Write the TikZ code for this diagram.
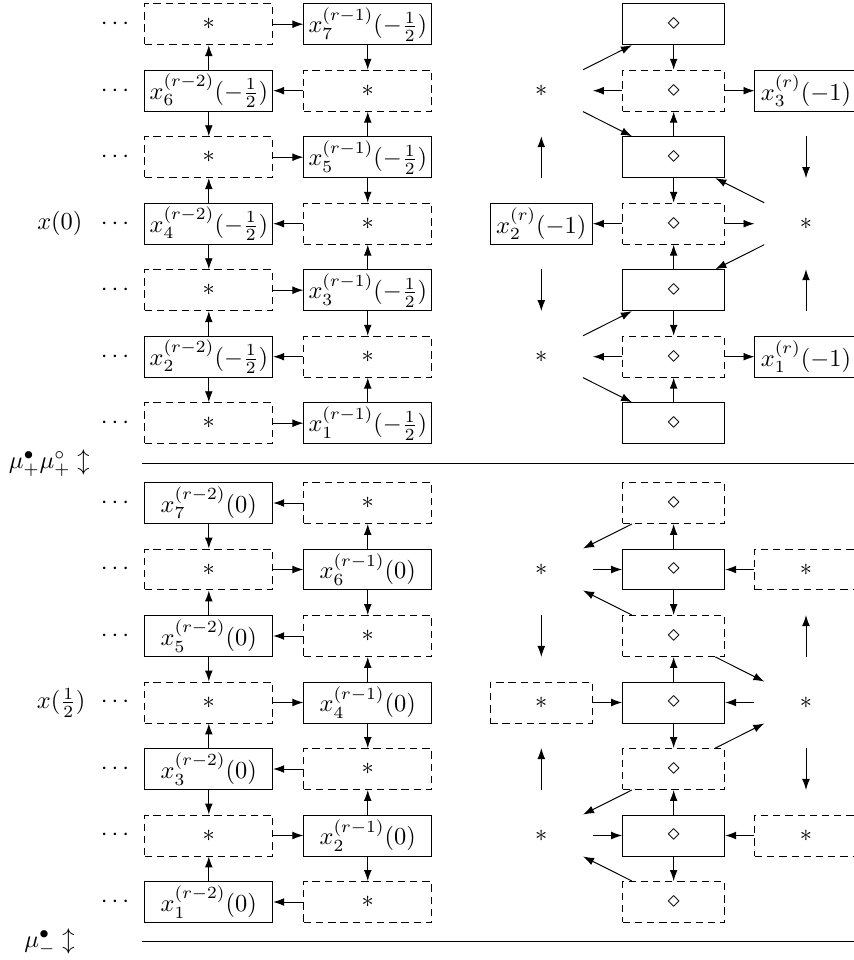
\documentclass[tikz,border=0pt]{standalone}
\usepackage{amsmath}
\usepackage{tikz}
\usetikzlibrary{arrows.meta}

\tikzset{
  cell/.style={rectangle, minimum width=1.84cm, minimum height=0.59cm, inner sep=1pt},
  full/.style={cell, draw},
  hole/.style={cell, draw, dash pattern=on 3pt off 2pt},
  narrow/.style={minimum width=1.47cm},
  arr/.style={-{Latex[length=4.5pt,width=3.2pt]}},
}

\begin{document}
\begin{tikzpicture}[x=0.958cm,y=0.958cm]
    \useasboundingbox (0,-0.872) rectangle (12.827,13.564);

    % upper half, x(0)
    \foreach \k in {1,3,5,7} \node[hole] (ua\k) at (3.14,6.2+\k) {$*$};
    \foreach \k in {2,4,6} \node[full] (ua\k) at (3.14,6.2+\k) {$x_{\k}^{(r-2)}(-\frac12)$};
    \foreach \k in {1,3,5,7} \node[full] (ub\k) at (5.53,6.2+\k) {$x_{\k}^{(r-1)}(-\frac12)$};
    \foreach \k in {2,4,6} \node[hole] (ub\k) at (5.53,6.2+\k) {$*$};
    \foreach \k in {1,...,7} \node at (1.76,6.2+\k) {$\cdots$};

    \node[cell,narrow] (uc6) at (8.14,12.2) {$*$};
    \node[cell,narrow] (uc5) at (8.14,11.2) {};
    \node[full,narrow] (uc4) at (8.14,10.2) {$x_2^{(r)}(-1)$};
    \node[cell,narrow] (uc3) at (8.14,9.2) {};
    \node[cell,narrow] (uc2) at (8.14,8.2) {$*$};

    \foreach \k in {1,3,5,7} \node[full,narrow] (ud\k) at (10.13,6.2+\k) {$\diamond$};
    \foreach \k in {2,4,6} \node[hole,narrow] (ud\k) at (10.13,6.2+\k) {$\diamond$};

    \node[full,narrow] (ue6) at (12.12,12.2) {$x_3^{(r)}(-1)$};
    \node[cell,narrow] (ue5) at (12.12,11.2) {};
    \node[cell,narrow] (ue4) at (12.12,10.2) {$*$};
    \node[cell,narrow] (ue3) at (12.12,9.2) {};
    \node[full,narrow] (ue2) at (12.12,8.2) {$x_1^{(r)}(-1)$};

    \foreach \k in {1,3,5,7} \draw[arr] (ua\k) -- (ub\k);
    \foreach \k in {2,4,6} \draw[arr] (ub\k) -- (ua\k);
    \foreach \k/\j in {2/1,2/3,4/3,4/5,6/5,6/7} \draw[arr] (ua\k) -- (ua\j);
    \foreach \k/\j in {1/2,3/2,3/4,5/4,5/6,7/6} {
        \draw[arr] (ub\k) -- (ub\j);
        \draw[arr] (ud\k) -- (ud\j);
    }
    \foreach \k in {2,4,6} {
        \draw[arr] (ud\k) -- (uc\k);
        \draw[arr] (ud\k) -- (ue\k);
    }
    \draw[arr] (uc6) -- (ud7);
    \draw[arr] (uc6) -- (ud5);
    \draw[arr] (ue4) -- (ud5);
    \draw[arr] (ue4) -- (ud3);
    \draw[arr] (uc2) -- (ud3);
    \draw[arr] (uc2) -- (ud1);
    \draw[arr] (uc5.south) -- (uc5.north);
    \draw[arr] (uc3.north) -- (uc3.south);
    \draw[arr] (ue5.north) -- (ue5.south);
    \draw[arr] (ue3.south) -- (ue3.north);

    \node (xzero) at (0.9,10.2) {$x(0)$};
    \node (muplus) at (0.74,6.6) {$\mu_+^\bullet\mu_+^\circ\updownarrow$};
    \coordinate (rp1) at (2.135,6.6);
    \coordinate (rp2) at (13,6.6);
    \draw (rp1) -- (rp2);

    % lower half, x(1/2)
    \foreach \k in {1,3,5,7} \node[full] (la\k) at (3.14,\k-1) {$x_{\k}^{(r-2)}(0)$};
    \foreach \k in {2,4,6} \node[hole] (la\k) at (3.14,\k-1) {$*$};
    \foreach \k in {1,3,5,7} \node[hole] (lb\k) at (5.53,\k-1) {$*$};
    \foreach \k in {2,4,6} \node[full] (lb\k) at (5.53,\k-1) {$x_{\k}^{(r-1)}(0)$};
    \foreach \k in {1,...,7} \node at (1.76,\k-1) {$\cdots$};

    \node[cell,narrow] (lc6) at (8.14,5) {$*$};
    \node[cell,narrow] (lc5) at (8.14,4) {};
    \node[hole,narrow] (lc4) at (8.14,3) {$*$};
    \node[cell,narrow] (lc3) at (8.14,2) {};
    \node[cell,narrow] (lc2) at (8.14,1) {$*$};

    \foreach \k in {1,3,5,7} \node[hole,narrow] (ld\k) at (10.13,\k-1) {$\diamond$};
    \foreach \k in {2,4,6} \node[full,narrow] (ld\k) at (10.13,\k-1) {$\diamond$};

    \node[hole,narrow] (le6) at (12.12,5) {$*$};
    \node[cell,narrow] (le5) at (12.12,4) {};
    \node[cell,narrow] (le4) at (12.12,3) {$*$};
    \node[cell,narrow] (le3) at (12.12,2) {};
    \node[hole,narrow] (le2) at (12.12,1) {$*$};

    \foreach \k in {1,3,5,7} \draw[arr] (lb\k) -- (la\k);
    \foreach \k in {2,4,6} \draw[arr] (la\k) -- (lb\k);
    \foreach \k/\j in {1/2,3/2,3/4,5/4,5/6,7/6} \draw[arr] (la\k) -- (la\j);
    \foreach \k/\j in {2/1,2/3,4/3,4/5,6/5,6/7} {
        \draw[arr] (lb\k) -- (lb\j);
        \draw[arr] (ld\k) -- (ld\j);
    }
    \foreach \k in {2,4,6} {
        \draw[arr] (lc\k) -- (ld\k);
        \draw[arr] (le\k) -- (ld\k);
    }
    \draw[arr] (ld7) -- (lc6);
    \draw[arr] (ld5) -- (lc6);
    \draw[arr] (ld5) -- (le4);
    \draw[arr] (ld3) -- (le4);
    \draw[arr] (ld3) -- (lc2);
    \draw[arr] (ld1) -- (lc2);
    \draw[arr] (lc5.north) -- (lc5.south);
    \draw[arr] (lc3.south) -- (lc3.north);
    \draw[arr] (le5.south) -- (le5.north);
    \draw[arr] (le3.north) -- (le3.south);

    \node (xhalf) at (0.92,3) {$x(\frac12)$};
    \node (minus) at (0.745,-0.6) {$\mu_-^\bullet\updownarrow$};
    \coordinate (rm1) at (2.135,-0.6);
    \coordinate (rm2) at (13,-0.6);
    \draw (rm1) -- (rm2);
\end{tikzpicture}
\end{document}
